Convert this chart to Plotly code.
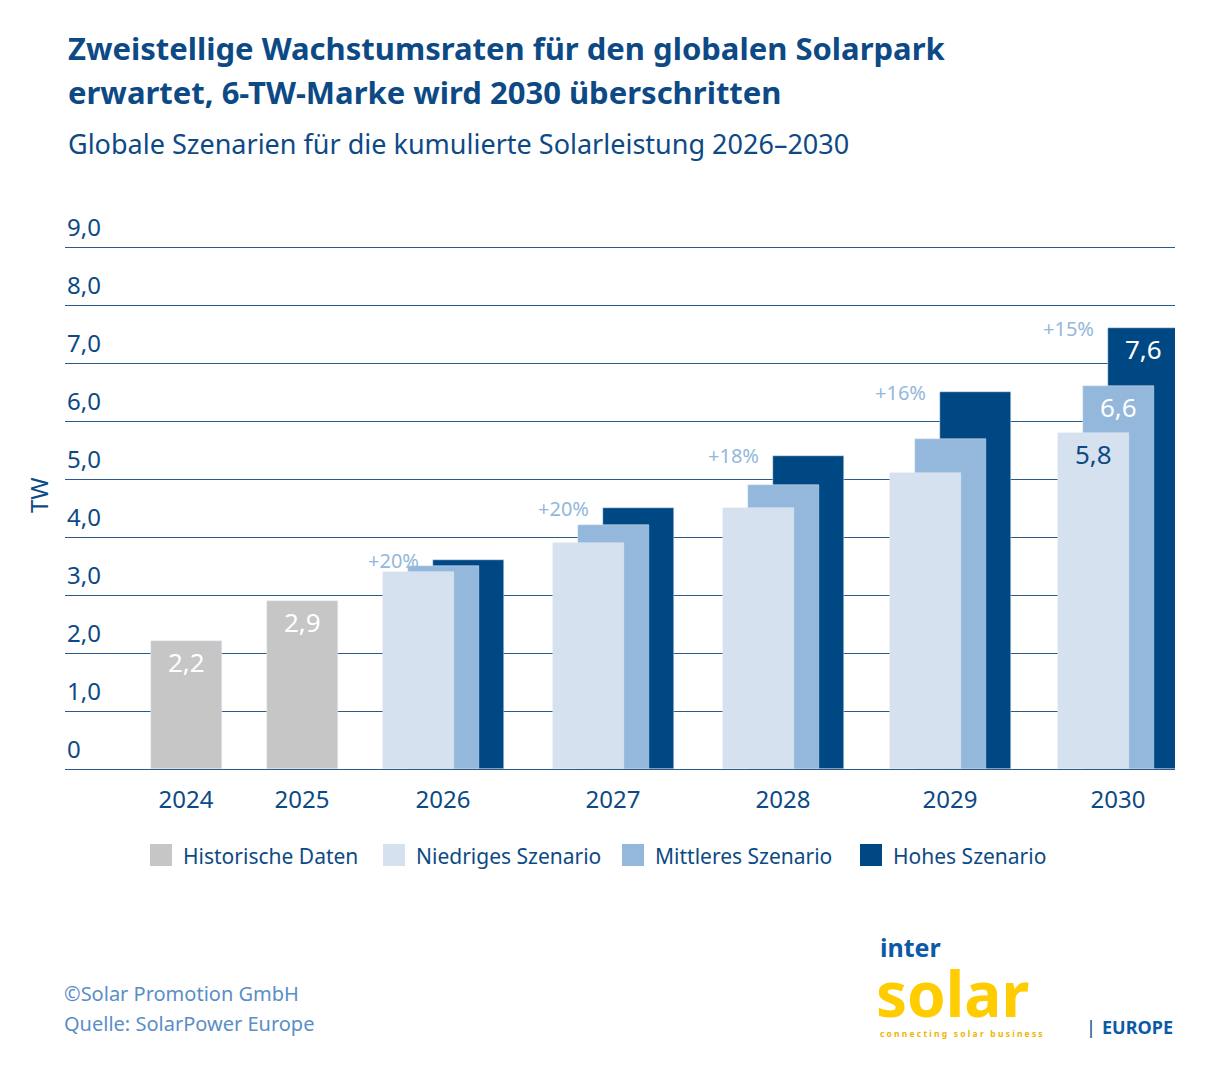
import plotly.graph_objects as go

# data
years = ["2024", "2025", "2026", "2027", "2028", "2029", "2030"]
hist_years = ["2024", "2025"]
hist_vals = [2.2, 2.9]
scen_years = ["2026", "2027", "2028", "2029", "2030"]
low_vals = [3.4, 3.9, 4.5, 5.1, 5.8]
mid_vals = [3.5, 4.2, 4.9, 5.7, 6.6]
high_vals = [3.6, 4.5, 5.4, 6.5, 7.6]
growth = ["+20%", "+20%", "+18%", "+16%", "+15%"]
y_ticks = [0, 1, 2, 3, 4, 5, 6, 7, 8, 9]
legend_names = ["Historische Daten", "Niedriges Szenario", "Mittleres Szenario", "Hohes Szenario"]

# layout helpers (pixel-like x positions of the year groups)
x_pos = dict(zip(years, [186, 302, 443, 613, 783, 950, 1118]))
BAR_W = 71
STEP = 25

GRAY = "#c6c6c6"
LIGHT = "#d5e1ee"
MID = "#94b7dc"
DARK = "#004884"
TEXT = "#0d4a85"
FONT = "Noto Sans"

W, H, TOP, BOT, LEFT, RIGHT = 1224, 1090, 246, 769, 65, 1175
PAGE_PAD = 8  # browser body margin


def fmt(v):
    return f"{v:.1f}".replace(".", ",")


def py(pix):
    """pixel row -> paper y"""
    return (BOT - pix) / (BOT - TOP)


def px(pix):
    """pixel column -> paper x"""
    return (pix - LEFT) / (RIGHT - LEFT)


def label(x, y, text, size, color, weight="normal", anchor="left", **kw):
    fig.add_annotation(x=px(x), y=py(y), xref="paper", yref="paper", text=text, showarrow=False,
                       xanchor=anchor, yanchor="middle",
                       font=dict(size=size, color=color, family=FONT, weight=weight), **kw)


fig = go.Figure()

fig.add_trace(go.Bar(
    x=[x_pos[y] for y in hist_years], y=hist_vals, width=BAR_W, marker_color=GRAY,
    name=legend_names[0], text=[fmt(v) for v in hist_vals], textposition="inside",
    insidetextanchor="end", textfont=dict(color="white", size=26),
))

scen_x = [x_pos[y] for y in scen_years]
# draw back to front: high, mid, low
for vals, col, name, off, tcol in [(high_vals, DARK, legend_names[3], STEP, "white"),
                                   (mid_vals, MID, legend_names[2], 0, "white"),
                                   (low_vals, LIGHT, legend_names[1], -STEP, TEXT)]:
    labels = [""] * (len(vals) - 1) + [fmt(vals[-1])]
    fig.add_trace(go.Bar(
        x=[x + off for x in scen_x], y=vals, width=BAR_W, marker_color=col, name=name,
        text=labels, textposition="inside", insidetextanchor="end",
        textfont=dict(color=tcol, size=26), textangle=0,
    ))

# growth labels
for x, h, g in zip(scen_x, high_vals, growth):
    fig.add_annotation(x=x - 50, y=h, text=g, showarrow=False, yanchor="middle",
                       font=dict(size=20, color=MID, family=FONT))

# y tick labels above grid lines
for t in y_ticks:
    fig.add_annotation(x=0.0, xref="paper", y=t, text=fmt(t) if t else "0", showarrow=False,
                       xanchor="left", yanchor="bottom", xshift=0, yshift=2,
                       font=dict(size=24, color=TEXT, family=FONT))

label(38, 495, "TW", 24, TEXT, anchor="center", textangle=-90)

# titles
label(66, 48, "Zweistellige Wachstumsraten für den globalen Solarpark", 31, TEXT, "bold")
label(66, 92, "erwartet, 6-TW-Marke wird 2030 überschritten", 31, TEXT, "bold")
label(66, 143, "Globale Szenarien für die kumulierte Solarleistung 2026–2030", 27, TEXT)

# legend (manual)
for name, col, sx in zip(legend_names, [GRAY, LIGHT, MID, DARK], [150, 383, 622, 860]):
    fig.add_shape(type="rect", xref="paper", yref="paper", x0=px(sx), x1=px(sx + 22),
                  y0=py(866), y1=py(844), fillcolor=col, line_width=0)
    label(sx + 31, 856, name, 21, TEXT)

# footer
label(62, 993, "©Solar Promotion GmbH", 20, "#5b8ec6")
label(62, 1023, "Quelle: SolarPower Europe", 20, "#5b8ec6")

# logo
label(878, 947, "<b>inter</b>", 25, "#0a5aa5")
label(874, 993, "<b>solar</b>", 62, "#ffcc00")
label(878, 1033, "<b>c o n n e c t i n g   s o l a r   b u s i n e s s</b>", 8.5, "#f0b400")
label(1084, 1027, "|", 18, DARK)
label(1100, 1027, "<b>EUROPE</b>", 18, "#0a5aa5")

fig.update_layout(
    width=W, height=H, plot_bgcolor="white", paper_bgcolor="white",
    margin=dict(l=LEFT - PAGE_PAD, r=W - RIGHT + PAGE_PAD, t=TOP - PAGE_PAD, b=H - BOT + PAGE_PAD,
                autoexpand=False),
    barmode="overlay", bargap=0, showlegend=False,
    font=dict(family=FONT, color=TEXT),
    uniformtext=dict(minsize=20, mode="show"),
)
fig.update_xaxes(range=[LEFT, RIGHT], tickvals=[x_pos[y] for y in years], ticktext=years,
                 tickfont=dict(size=24, color=TEXT), showgrid=False, zeroline=False, ticks="",
                 ticklabelstandoff=14, automargin=False)
fig.update_yaxes(range=[0, 9.02], tickvals=y_ticks, showticklabels=False, showgrid=True,
                 gridcolor="#2a5a8c", gridwidth=1, zeroline=True, zerolinecolor="#2a5a8c",
                 zerolinewidth=1, automargin=False)

fig.write_html("out.html")
